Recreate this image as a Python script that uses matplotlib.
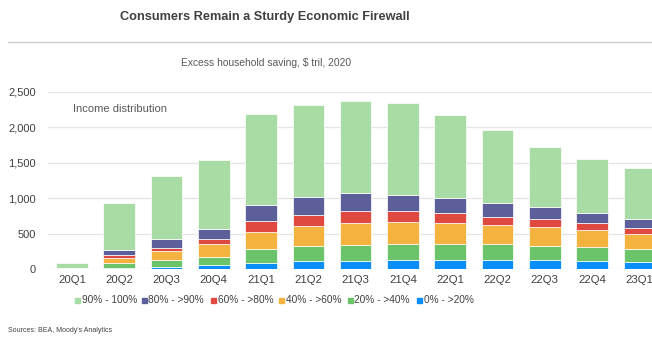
import matplotlib
matplotlib.use("Agg")
import matplotlib.pyplot as plt
import numpy as np

quarters = ["20Q1", "20Q2", "20Q3", "20Q4", "21Q1", "21Q2", "21Q3", "21Q4",
            "22Q1", "22Q2", "22Q3", "22Q4", "23Q1"]
series_names = ["90% - 100%", "80% - >90%", "60% - >80%", "40% - >60%", "20% - >40%", "0% - >20%"]

# stacked bottom to top: 0-20, 20-40, 40-60, 60-80, 80-90, 90-100
s_0_20 = [2, 18, 28, 52, 89, 113, 118, 127, 127, 127, 127, 113, 99]
s_20_40 = [4, 62, 95, 121, 193, 207, 225, 230, 226, 221, 197, 197, 187]
s_40_60 = [7, 75, 127, 175, 244, 282, 306, 310, 296, 277, 273, 236, 208]
s_60_80 = [4, 38, 50, 71, 146, 159, 169, 146, 136, 113, 108, 103, 84]
s_80_90 = [3, 75, 119, 149, 230, 254, 249, 230, 212, 188, 165, 141, 127]
s_90_100 = [70, 667, 888, 969, 1279, 1302, 1302, 1293, 1179, 1034, 855, 761, 715]

yticks = [0, 500, 1000, 1500, 2000, 2500]
ytick_labels = ["0", "500", "1,000", "1,500", "2,000", "2,500"]

colors = {
    "0% - >20%": "#0a8ffa",
    "20% - >40%": "#6cc46a",
    "40% - >60%": "#f4b33f",
    "60% - >80%": "#e0493f",
    "80% - >90%": "#5c5f99",
    "90% - 100%": "#a8dca4",
}
stack = [("0% - >20%", s_0_20), ("20% - >40%", s_20_40), ("40% - >60%", s_40_60),
         ("60% - >80%", s_60_80), ("80% - >90%", s_80_90), ("90% - 100%", s_90_100)]

W, H = 652, 337
fig = plt.figure(figsize=(W / 100, H / 100), dpi=100)
plt.rcParams['font.family'] = ['Liberation Sans', 'DejaVu Sans']

left = 48.3 / W
right = 663 / W
bottom = (H - 269) / H
top = (H - 91.7) / H
ax = fig.add_axes([left, bottom, right - left, top - bottom])

x = np.arange(len(quarters))
base = np.zeros(len(quarters))
for name, vals in stack:
    v = np.array(vals, dtype=float)
    ax.bar(x, v, bottom=base, width=0.67, color=colors[name],
           edgecolor="white", linewidth=0.5, zorder=3)
    base += v

ax.set_xlim(-0.5, len(quarters) - 0.5)
ax.set_ylim(0, 2500)
ax.set_yticks(yticks)
ax.set_yticklabels(ytick_labels)
ax.set_xticks(x)
ax.set_xticklabels(quarters)
ax.grid(axis="y", color="#e4e4e4", linewidth=0.9, zorder=0)
for s in ax.spines.values():
    s.set_visible(False)
ax.tick_params(axis="y", length=0, labelsize=8, colors="#404040", pad=9)
ax.tick_params(axis="x", length=0, labelsize=8.2, colors="#404040", pad=4)

fig.text(73 / W, 1 - 109 / H, "Income distribution", fontsize=8.0, color="#595959",
         va="center", ha="left")

# title & subtitle
fig.text(265 / W, 1 - 17 / H, "Consumers Remain a Sturdy Economic Firewall",
         fontsize=9.2, fontweight="bold", color="#404040", ha="center", va="center")
fig.add_artist(plt.Line2D([8 / W, 1.0], [1 - 41.7 / H, 1 - 41.7 / H],
                          color="#cfcfcf", linewidth=1.0, transform=fig.transFigure))
fig.text(266 / W, 1 - 62.5 / H, "Excess household saving, $ tril, 2020",
         fontsize=7.4, color="#595959", ha="center", va="center")

# legend
leg_x = [75, 142, 211, 279, 348, 417]
ly = 1 - 300 / H
for name, lx in zip(series_names, leg_x):
    fig.patches.append(plt.Rectangle((lx / W, ly - 2.5 / H), 5 / W, 5 / H,
                                     color=colors[name], transform=fig.transFigure))
    fig.text((lx + 6.5) / W, ly, name, fontsize=7.3, color="#404040",
             ha="left", va="center")

fig.text(8 / W, 1 - 331 / H, "Sources: BEA, Moody's Analytics", fontsize=5.0,
         color="#404040", ha="left", va="center")

fig.savefig("out.png", dpi=100)
